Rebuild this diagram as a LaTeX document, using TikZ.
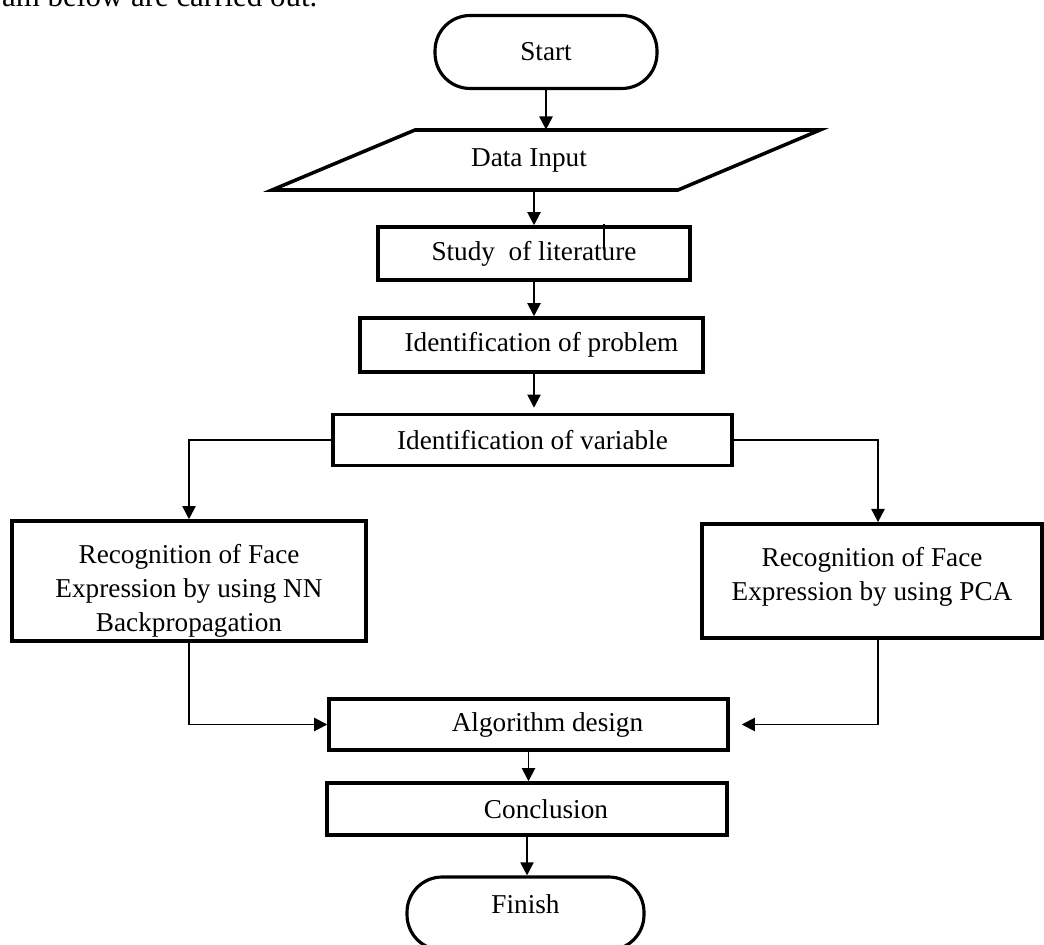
\documentclass[tikz,border=0pt]{standalone}
\usepackage{fontspec}
\setmainfont{Liberation Serif}
\usepackage{tikz}
\usetikzlibrary{arrows.meta,calc}

\begin{document}
\begin{tikzpicture}[x=0.02cm, y=-0.02cm,
    every node/.style={font=\fontsize{15.5}{19.5}\selectfont},
    box/.style={draw,line width=2pt,inner sep=2pt,align=center},
    terminal/.style={draw,line width=1.8pt,rounded corners=20pt,minimum height=1.46cm},
    flow/.style={-{Triangle[length=7.5pt,width=7.5pt]},line width=1.1pt}]
    \useasboundingbox (0,0) rectangle (1044,945);
    \node[anchor=base west,font=\fontsize{17.6}{20}\selectfont] (intro) at (-4,7) {am below are carried out.};
    \node[terminal,minimum width=4.44cm] (start) at (546,52) {Start};
    \node[minimum width=8.1cm,minimum height=1.2cm] (data) at (529,160) {Data Input};
    \draw[line width=2pt] (272,190) -- (415,130) -- (820,130) -- (678,190) -- cycle;
    \node[box,minimum width=6.24cm,minimum height=1.06cm] (study) at (534,253.5) {Study\enspace of literature};
    \draw[line width=0.6pt] (604,224) -- (604,250);
    \node[box,minimum width=6.86cm,minimum height=1.08cm] (problem) at (531.5,345) {\hspace*{0.4cm}Identification of problem};
    \node[box,minimum width=7.98cm,minimum height=1.02cm] (variable) at (532.5,440) {Identification of variable};
    \node[box,minimum width=7.08cm,minimum height=2.24cm] (nn) at (189,581) {\rule{0pt}{22pt}Recognition of Face\\Expression by using NN\\Backpropagation};
    \node[box,minimum width=6.8cm,minimum height=2.24cm] (pca) at (872,581) {\rule{0pt}{22pt}Recognition of Face\\Expression by using PCA\\\mbox{}};
    \node[box,minimum width=7.98cm,minimum height=1.02cm] (algo) at (528.5,724.5) {\hspace*{0.76cm}Algorithm design};
    \node[box,minimum width=8cm,minimum height=1.04cm] (conc) at (527,809) {\hspace*{0.76cm}Conclusion};
    \node[terminal,minimum width=4.74cm] (finish) at (525.5,913.5) {\rule[-11pt]{0pt}{0pt}Finish};
    \draw[flow] (start) -- (start |- data.north);
    \draw[flow] (study |- data.south) -- (study);
    \draw[flow] (study) -- (study |- problem.north);
    \draw[flow,shorten >=0.1cm] (problem.south -| study) -- (study |- variable.north);
    \draw[flow] (variable.west) -| (nn.north);
    \draw[flow] (variable.east) -| ([xshift=0.12cm]pca.north);
    \draw[flow] (nn.south) |- (algo.west);
    \draw[flow,shorten >=0.24cm] ([xshift=0.12cm]pca.south) |- (algo.east);
    \draw[flow] (algo.south) -- (algo.south |- conc.north);
    \draw[flow] (conc.south) -- (conc.south |- finish.north);
\end{tikzpicture}
\end{document}
